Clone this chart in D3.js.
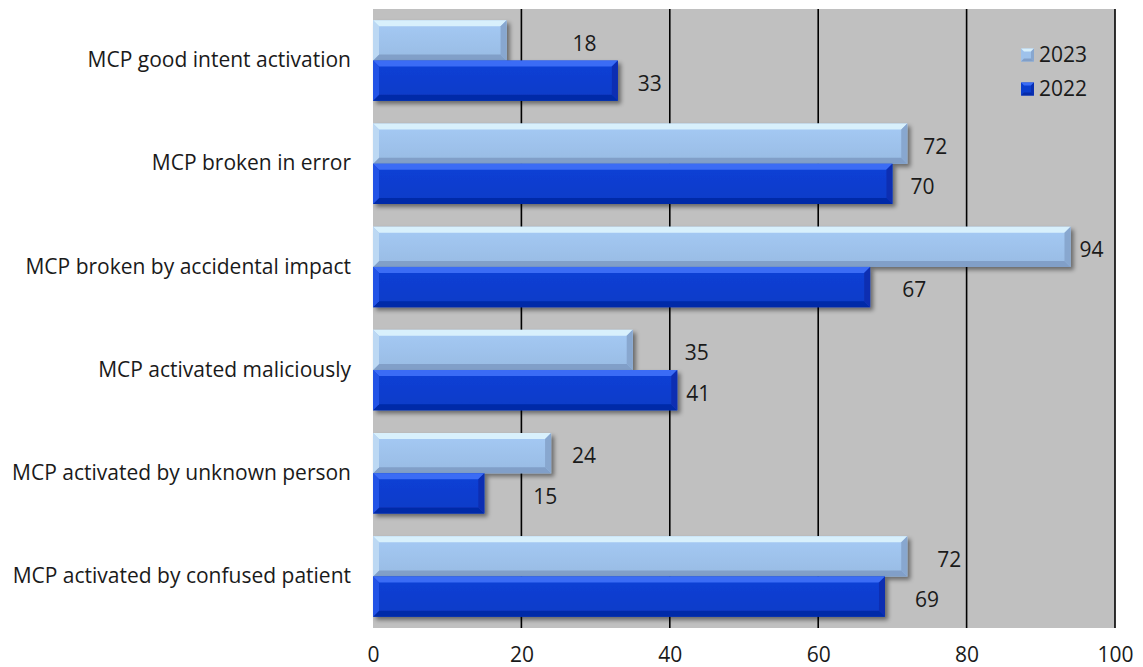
<!DOCTYPE html>
<html>
<head>
<meta charset="utf-8">
<script src="https://cdn.jsdelivr.net/npm/d3@7/dist/d3.min.js"></script>
<style>
  html, body { margin: 0; padding: 0; background: #ffffff; }
  svg { display: block; }
  text { font-family: "Open Sans", "DejaVu Sans", sans-serif; fill: #1a1a1a; }
</style>
</head>
<body>
<svg id="chart" width="1143" height="667"></svg>
<script>
// Call point activation causes, counts per year
const categories = [
  "MCP good intent activation",
  "MCP broken in error",
  "MCP broken by accidental impact",
  "MCP activated maliciously",
  "MCP activated by unknown person",
  "MCP activated by confused patient"
];
const seriesNames = ["2023", "2022"];
const values2023 = [18, 72, 94, 35, 24, 72];
const values2022 = [33, 70, 67, 41, 15, 69];
const xTicks = [0, 20, 40, 60, 80, 100];

// Hand-placed data label offsets (px past the bar end)
const labelShift2023 = [66, 16, 9, 52, 21, 30];
const labelShift2022 = [20, 18, 32, 9, 49, 30];

const seriesValues = [values2023, values2022];
const labelShifts = [labelShift2023, labelShift2022];

const svg = d3.select("#chart");
const plot = { left: 373, right: 1115, top: 9, bottom: 628 };
const fontSize = "21px";

const x = d3.scaleLinear().domain([0, 100]).range([plot.left, plot.right]);
const y = d3.scaleBand().domain(categories).range([plot.top, plot.bottom])
  .paddingInner(0.22).paddingOuter(0.11);
const ySub = d3.scaleBand().domain(seriesNames).range([0, y.bandwidth()]);

// Bevel palettes: face, top, bottom, left, right facets
const palettes = {
  "2023": { face: "#9ec2eb", top: "#d8f0fc", bottom: "#819fc8", left: "#bcd8f3", right: "#88a7cf" },
  "2022": { face: "#0a3dce", top: "#3a6cf5", bottom: "#062ba8", left: "#2452e6", right: "#0a2fb2" }
};

const defs = svg.append("defs");
const shadow = defs.append("filter").attr("id", "barShadow")
  .attr("x", "-5%").attr("y", "-20%").attr("width", "115%").attr("height", "160%");
shadow.append("feDropShadow").attr("dx", 3).attr("dy", 3)
  .attr("stdDeviation", 2).attr("flood-color", "#000").attr("flood-opacity", 0.45);

const faceGrad = {};
seriesNames.forEach(s => {
  const g = defs.append("linearGradient").attr("id", "face" + s)
    .attr("x1", 0).attr("y1", 0).attr("x2", 0).attr("y2", 1);
  const p = palettes[s];
  g.append("stop").attr("offset", "0%").attr("stop-color", d3.color(p.face).brighter(0.12));
  g.append("stop").attr("offset", "100%").attr("stop-color", d3.color(p.face).darker(0.1));
  faceGrad[s] = "url(#face" + s + ")";
});

// Plot background
svg.append("rect")
  .attr("x", plot.left).attr("y", plot.top)
  .attr("width", plot.right - plot.left).attr("height", plot.bottom - plot.top)
  .attr("fill", "#c0c0c0");

// Vertical gridlines
svg.append("g").selectAll("line")
  .data(xTicks.filter(t => t > 0))
  .join("line")
  .attr("x1", d => x(d)).attr("x2", d => x(d))
  .attr("y1", plot.top).attr("y2", plot.bottom)
  .attr("stroke", "#000").attr("stroke-width", 1.6);

// X axis tick labels
const xAxis = d3.axisBottom(x).tickValues(xTicks).tickSize(0).tickPadding(0);
const xg = svg.append("g").attr("transform", `translate(0, ${plot.bottom})`).call(xAxis);
xg.select(".domain").remove();
xg.selectAll("text").attr("y", 27).attr("dy", "0.32em")
  .style("font-size", fontSize).style("font-family", "'Open Sans', sans-serif").attr("fill", "#1a1a1a");

// Category labels
const yAxis = d3.axisLeft(y).tickSize(0).tickPadding(22);
const yg = svg.append("g").attr("transform", `translate(${plot.left}, 0)`).call(yAxis);
yg.select(".domain").remove();
yg.selectAll("text").style("font-size", fontSize)
  .style("font-family", "'Open Sans', sans-serif").attr("fill", "#1a1a1a");

// Bevelled bars
const bevel = 6;
function drawBar(g, x0, y0, x1, y1, p, fillFace) {
  const b = Math.min(bevel, (x1 - x0) / 2);
  const grp = g.append("g").attr("filter", "url(#barShadow)");
  grp.append("rect").attr("x", x0).attr("y", y0).attr("width", x1 - x0).attr("height", y1 - y0).attr("fill", fillFace);
  const poly = pts => pts.map(q => q.join(",")).join(" ");
  grp.append("polygon").attr("points", poly([[x0, y0], [x1, y0], [x1 - b, y0 + b], [x0 + b, y0 + b]])).attr("fill", p.top);
  grp.append("polygon").attr("points", poly([[x0, y1], [x1, y1], [x1 - b, y1 - b], [x0 + b, y1 - b]])).attr("fill", p.bottom);
  grp.append("polygon").attr("points", poly([[x0, y0], [x0 + b, y0 + b], [x0 + b, y1 - b], [x0, y1]])).attr("fill", p.left);
  grp.append("polygon").attr("points", poly([[x1, y0], [x1 - b, y0 + b], [x1 - b, y1 - b], [x1, y1]])).attr("fill", p.right);
}

const bars = svg.append("g");
const labels = svg.append("g");
seriesNames.forEach((s, si) => {
  categories.forEach((c, ci) => {
    const v = seriesValues[si][ci];
    const y0 = y(c) + ySub(s);
    const y1 = y0 + ySub.bandwidth();
    drawBar(bars, x(0), y0, x(v), y1, palettes[s], faceGrad[s]);
    labels.append("text")
      .attr("x", x(v) + labelShifts[si][ci])
      .attr("y", (y0 + y1) / 2 + 3)
      .attr("dy", "0.35em")
      .style("font-size", fontSize)
      .text(v);
  });
});

// Legend
const legend = svg.append("g");
const legendRows = [{ name: "2023", cy: 55 }, { name: "2022", cy: 89 }];
legendRows.forEach(r => {
  const p = palettes[r.name];
  const s = 13, lx = 1021, ly = r.cy - s / 2, b = 3;
  const poly = pts => pts.map(q => q.join(",")).join(" ");
  legend.append("rect").attr("x", lx).attr("y", ly).attr("width", s).attr("height", s).attr("fill", p.face);
  legend.append("polygon").attr("points", poly([[lx, ly], [lx + s, ly], [lx + s - b, ly + b], [lx + b, ly + b]])).attr("fill", p.top);
  legend.append("polygon").attr("points", poly([[lx, ly + s], [lx + s, ly + s], [lx + s - b, ly + s - b], [lx + b, ly + s - b]])).attr("fill", p.bottom);
  legend.append("polygon").attr("points", poly([[lx + s, ly], [lx + s - b, ly + b], [lx + s - b, ly + s - b], [lx + s, ly + s]])).attr("fill", p.right);
  legend.append("text").attr("x", 1039).attr("y", r.cy).attr("dy", "0.35em")
    .style("font-size", fontSize).text(r.name);
});
</script>
</body>
</html>
